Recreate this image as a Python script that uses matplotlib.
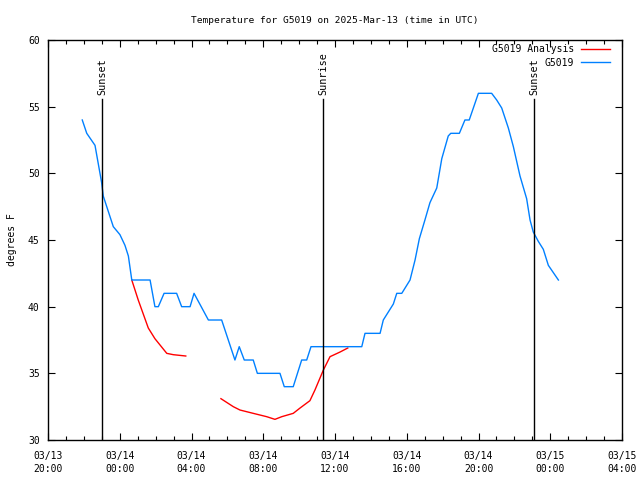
import numpy as np
import matplotlib.pyplot as plt
from matplotlib.ticker import MultipleLocator

# hours after 03/13 20:00 UTC
obs_hours = [1.91, 2.16, 2.62, 2.99, 3.08, 3.64, 4.01, 4.29, 4.48, 4.67, 5.69, 5.96, 6.15,
             6.47, 7.17, 7.45, 7.92, 8.14, 8.94, 9.68, 10.42, 10.66, 10.94, 11.44, 11.67,
             12.93, 13.17, 13.67, 14.14, 14.42, 14.66, 17.49, 17.67, 18.51, 18.69, 19.25,
             19.44, 19.72, 20.18, 20.46, 20.70, 21.01, 21.29, 21.67, 21.95, 22.31, 22.45,
             22.93, 23.24, 23.48, 23.99, 24.73, 25.01, 25.29, 25.66, 25.94, 26.31, 26.68,
             26.87, 27.05, 27.33, 27.61, 27.89, 28.45]
obs_temp = [54.0, 53.0, 52.1, 49.3, 48.3, 46.0, 45.4, 44.6, 43.8, 42.0, 42.0, 40.0, 40.0,
            41.0, 41.0, 40.0, 40.0, 41.0, 39.0, 39.0, 36.0, 37.0, 36.0, 36.0, 35.0,
            35.0, 34.0, 34.0, 36.0, 36.0, 37.0, 37.0, 38.0, 38.0, 39.0, 40.2,
            41.0, 41.0, 42.0, 43.5, 45.1, 46.5, 47.8, 48.9, 51.1, 52.8, 53.0,
            53.0, 54.0, 54.0, 56.0, 56.0, 55.5, 54.9, 53.4, 52.0, 49.8, 48.1,
            46.5, 45.6, 44.9, 44.3, 43.1, 42.0]

ana_hours = [4.67, 5.03, 5.59, 5.96, 6.62, 6.98, 7.68, np.nan,
             9.64, 10.33, 10.70, 11.44, 12.19, 12.65, 13.03, 13.67, 14.05, 14.60,
             14.88, 15.35, 15.72, 16.28, 16.71]
ana_temp = [42.0, 40.5, 38.4, 37.6, 36.5, 36.4, 36.3, np.nan,
            33.1, 32.5, 32.25, 32.0, 31.75, 31.55, 31.75, 32.0, 32.4, 32.95,
            33.75, 35.25, 36.25, 36.6, 36.9]

sun_hours = [3.01, 15.33, 27.09]
sun_labels = ['Sunset', 'Sunrise', 'Sunset']

tick_labels = ['03/13\n20:00', '03/14\n00:00', '03/14\n04:00', '03/14\n08:00', '03/14\n12:00',
               '03/14\n16:00', '03/14\n20:00', '03/15\n00:00', '03/15\n04:00']

plt.rcParams['font.family'] = ['DejaVu Sans Mono']
plt.rcParams['font.size'] = 7

fig = plt.figure(figsize=(6.4, 4.8), dpi=100)
ax = fig.add_axes([0.075, 0.0833, 0.897, 0.8334])

ax.plot(ana_hours, ana_temp, color='#ff0000', lw=1, label='G5019 Analysis')
ax.plot(obs_hours, obs_temp, color='#0080ff', lw=1, label='G5019')

for h, lab in zip(sun_hours, sun_labels):
    ax.plot([h, h], [30, 55.6], color='black', lw=1)
    ax.text(h, 55.9, lab, rotation=90, ha='center', va='bottom', fontsize=7.3)

ax.set_xlim(0, 32)
ax.set_ylim(30, 60)
ax.set_xticks(np.arange(0, 33, 4))
ax.set_xticklabels(tick_labels, linespacing=1.3)
ax.xaxis.set_minor_locator(MultipleLocator(1))
ax.yaxis.set_major_locator(MultipleLocator(5))
ax.tick_params(which='both', direction='in', top=True, right=True, length=5, width=0.8)
ax.tick_params(which='minor', length=3)
ax.tick_params(axis='x', pad=8)
ax.tick_params(axis='y', pad=6)
for s in ax.spines.values():
    s.set_linewidth(1)

ax.set_ylabel('degrees F', labelpad=8)
ax.set_title('Temperature for G5019 on 2025-Mar-13 (time in UTC)', pad=12, fontsize=6.8)
ax.legend(loc='upper right', bbox_to_anchor=(0.979, 0.99), frameon=False,
          markerfirst=False, handlelength=3.0, borderaxespad=0, borderpad=0,
          labelspacing=0.4, handletextpad=0.7)

fig.savefig('out.png', dpi=100)
